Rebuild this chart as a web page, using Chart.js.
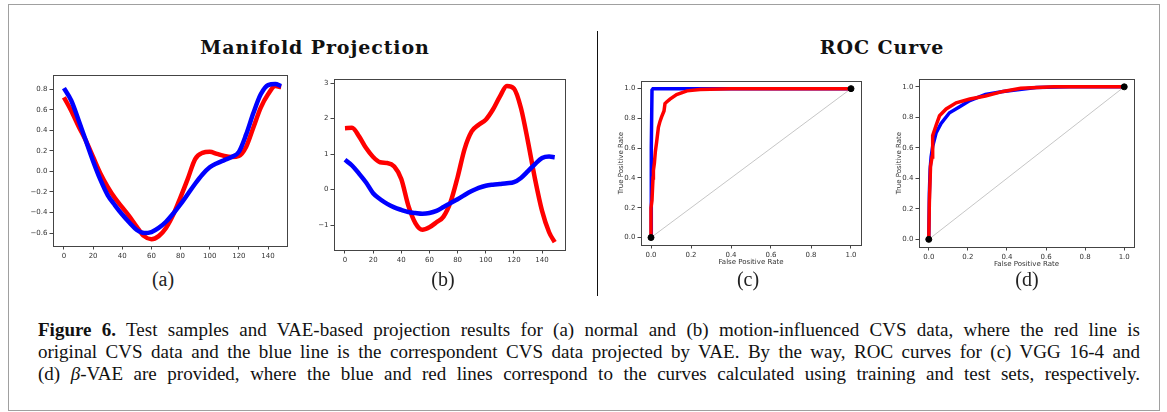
<!DOCTYPE html>
<html>
<head>
<meta charset="utf-8">
<script src="https://cdn.jsdelivr.net/npm/chart.js@4"></script>
<style>
  body { margin: 0; background: #fff; }
  #fig { position: relative; width: 1167px; height: 412px; overflow: hidden; }
  .box { position: absolute; left: 8px; top: 4px; width: 1150px; height: 405px; border: 1.5px solid #a0a0a0; }
  .divider { position: absolute; left: 597px; top: 31px; width: 1px; height: 265px; background: #111; }
  .head { position: absolute; transform: translateX(-50%); font-family: 'DejaVu Serif', serif; font-weight: bold; font-size: 19px; letter-spacing: 0.9px; color: #111; white-space: nowrap; }
  .sub { position: absolute; transform: translateX(-50%); font-family: 'Liberation Serif', serif; font-size: 20px; color: #222; }
  canvas { position: absolute; }
  .cap { position: absolute; left: 38px; width: 1102px; font-family: 'Liberation Serif', serif; font-size: 19px; color: #111; text-align: justify; text-align-last: justify; white-space: nowrap; }
</style>
</head>
<body>
<div id="fig">
  <div class="box"></div>
  <div class="divider"></div>
  <div class="head" style="left:315px; top:36px;">Manifold Projection</div>
  <div class="head" style="left:882px; top:36px;">ROC Curve</div>
  <canvas id="chartA"></canvas>
  <canvas id="chartB"></canvas>
  <canvas id="chartC"></canvas>
  <canvas id="chartD"></canvas>
  <div class="sub" style="left:163px; top:268px;">(a)</div>
  <div class="sub" style="left:443px; top:268px;">(b)</div>
  <div class="sub" style="left:748px; top:268px;">(c)</div>
  <div class="sub" style="left:1027px; top:268px;">(d)</div>
  <div class="cap" style="top:319px;"><b>Figure 6.</b> Test samples and VAE-based projection results for (a) normal and (b) motion-influenced CVS data, where the red line is</div>
  <div class="cap" style="top:341px;">original CVS data and the blue line is the correspondent CVS data projected by VAE. By the way, ROC curves for (c) VGG 16-4 and</div>
  <div class="cap" style="top:363px;">(d) <i>β</i>-VAE are provided, where the blue and red lines correspond to the curves calculated using training and test sets, respectively.</div>
</div>
<script>
// sample index of the CVS signals (read every 5 samples)
const sampleIdx = [0, 5, 10, 15, 20, 25, 30, 35, 40, 45, 50, 55, 60, 65, 70, 75, 80, 85, 90, 95, 100, 105, 110, 115, 120, 125, 130, 135, 140, 145, 149];

// (a) normal CVS data
const redA = [0.72, 0.59, 0.44, 0.30, 0.14, -0.02, -0.15, -0.26, -0.35, -0.44, -0.54, -0.63, -0.66, -0.63, -0.55, -0.42, -0.25, -0.07, 0.12, 0.18, 0.19, 0.17, 0.15, 0.14, 0.15, 0.24, 0.43, 0.62, 0.75, 0.83, 0.82];
const blueA = [0.81, 0.69, 0.50, 0.30, 0.10, -0.08, -0.23, -0.33, -0.42, -0.50, -0.57, -0.60, -0.59, -0.55, -0.49, -0.41, -0.32, -0.22, -0.12, -0.03, 0.04, 0.08, 0.11, 0.14, 0.19, 0.36, 0.57, 0.75, 0.84, 0.85, 0.83];

// (b) motion-influenced CVS data
const redB = [1.73, 1.74, 1.50, 1.17, 0.92, 0.77, 0.75, 0.65, 0.30, -0.45, -0.94, -1.13, -1.06, -0.92, -0.76, -0.35, 0.35, 1.15, 1.64, 1.83, 1.97, 2.25, 2.62, 2.92, 2.85, 2.30, 1.35, 0.30, -0.60, -1.20, -1.48];
const blueB = [0.84, 0.68, 0.45, 0.20, -0.10, -0.27, -0.40, -0.50, -0.57, -0.63, -0.66, -0.68, -0.66, -0.60, -0.49, -0.38, -0.27, -0.15, -0.04, 0.05, 0.11, 0.14, 0.16, 0.18, 0.21, 0.33, 0.52, 0.72, 0.89, 0.93, 0.91];

// (c) ROC, VGG 16-4
const fprTrainC = [0, 0, 0.003, 0.005, 0.01, 1];
const tprTrainC = [0, 0.2, 0.6, 0.99, 1.0, 1.0];
const fprTestC = [0, 0, 0.005, 0.01, 0.012, 0.017, 0.022, 0.028, 0.037, 0.045, 0.053, 0.065, 0.07, 0.078, 0.095, 0.128, 0.18, 0.245, 0.4, 1];
const tprTestC = [0, 0.2, 0.25, 0.4, 0.45, 0.5, 0.58, 0.64, 0.74, 0.78, 0.81, 0.85, 0.9, 0.91, 0.93, 0.96, 0.985, 0.995, 1.0, 1.0];

// (d) ROC, beta-VAE
const fprTrainD = [0, 0.003, 0.007, 0.012, 0.02, 0.038, 0.063, 0.106, 0.158, 0.21, 0.29, 0.38, 0.55, 0.72, 1];
const tprTrainD = [0, 0.3, 0.46, 0.54, 0.61, 0.70, 0.76, 0.83, 0.87, 0.91, 0.95, 0.97, 0.995, 1.0, 1.0];
const fprTestD = [0, 0.003, 0.009, 0.017, 0.02, 0.038, 0.055, 0.089, 0.14, 0.21, 0.29, 0.38, 0.47, 0.64, 1];
const tprTestD = [0, 0.24, 0.48, 0.54, 0.68, 0.75, 0.81, 0.855, 0.895, 0.92, 0.94, 0.97, 0.99, 1.0, 1.0];

// chance diagonal and end points
const chanceLine = [0, 1];

// tick labels
const sampleTicks = [0, 20, 40, 60, 80, 100, 120, 140];
const yTicksA = [-0.6, -0.4, -0.2, 0, 0.2, 0.4, 0.6, 0.8];
const yTicksB = [-1, 0, 1, 2, 3];
const rocTicks = [0, 0.2, 0.4, 0.6, 0.8, 1.0];

Chart.defaults.animation = false;
Chart.defaults.font.family = 'DejaVu Sans';

const RED = '#ff0000';
const BLUE = '#0000ff';
const AXIS = '#444';

// draw the closed matplotlib-like box around each plot area
const framePlugin = {
    id: 'frame',
    afterDraw(chart) {
        const a = chart.chartArea;
        const ctx = chart.ctx;
        ctx.save();
        ctx.strokeStyle = AXIS;
        ctx.lineWidth = 1;
        ctx.strokeRect(Math.round(a.left) + 0.5, Math.round(a.top) + 0.5,
            Math.round(a.right - a.left), Math.round(a.bottom - a.top));
        ctx.restore();
    }
};

const fmt1 = v => v.toFixed(1).replace('-', '\u2212');
const fmt0 = v => v.toFixed(0).replace('-', '\u2212');

function scaleOpts(min, max, ticks, fmt, size, title) {
    return {
        type: 'linear',
        min: min,
        max: max,
        afterBuildTicks: s => { s.ticks = ticks.map(v => ({ value: v })); },
        afterFit: s => { if (s.isHorizontal()) s.height = size; else s.width = size; },
        grid: { drawOnChartArea: false, drawTicks: true, tickLength: 3.5, tickColor: AXIS, color: AXIS },
        border: { display: false },
        ticks: { font: { size: 7 }, color: '#333', padding: 2, callback: fmt, maxRotation: 0, autoSkip: false },
        title: title
            ? { display: true, text: title, color: '#333', font: { size: 7 }, padding: 0 }
            : { display: false }
    };
}

function pairs(xs, ys) {
    return xs.map((x, i) => ({ x: x, y: ys[i] }));
}

// plot area (frame) of each panel in page pixels
function makeChart(id, frame, yWidth, xHeight, datasets, xScale, yScale) {
    const padTop = 6, padRight = 6;
    const cv = document.getElementById(id);
    cv.width = frame.r - frame.l + yWidth + padRight;
    cv.height = frame.b - frame.t + padTop + xHeight;
    cv.style.left = (frame.l - yWidth) + 'px';
    cv.style.top = (frame.t - padTop) + 'px';
    return new Chart(cv.getContext('2d'), {
        type: 'scatter',
        data: { datasets: datasets },
        options: {
            responsive: false,
            devicePixelRatio: 1,
            events: [],
            layout: { padding: { top: padTop, right: padRight, left: 0, bottom: 0 } },
            plugins: { legend: { display: false }, tooltip: { enabled: false } },
            scales: { x: xScale, y: yScale }
        },
        plugins: [framePlugin]
    });
}

function signal(xs, ys, color) {
    return {
        data: pairs(xs, ys),
        showLine: true,
        borderColor: color,
        backgroundColor: color,
        borderWidth: 4.5,
        pointRadius: 0,
        cubicInterpolationMode: 'monotone'
    };
}

function rocLine(xs, ys, color) {
    return {
        data: pairs(xs, ys),
        showLine: true,
        borderColor: color,
        backgroundColor: color,
        borderWidth: 3.5,
        pointRadius: 0,
        tension: 0
    };
}

function rocExtras() {
    return {
        dots: {
            data: pairs(chanceLine, chanceLine),
            showLine: false,
            pointRadius: 3,
            backgroundColor: '#000',
            borderColor: '#000'
        },
        diag: {
            data: pairs(chanceLine, chanceLine),
            showLine: true,
            borderColor: '#b8b8b8',
            borderWidth: 0.8,
            pointRadius: 0
        }
    };
}

// (a)
makeChart('chartA', { l: 53, t: 75, r: 287, b: 246 }, 36, 20,
    [signal(sampleIdx, blueA, BLUE), signal(sampleIdx, redA, RED)],
    scaleOpts(-7.5, 153, sampleTicks, fmt0, 20),
    scaleOpts(-0.726, 0.936, yTicksA, fmt1, 36));

// (b)
makeChart('chartB', { l: 334, t: 79, r: 565, b: 250 }, 30, 20,
    [signal(sampleIdx, blueB, BLUE), signal(sampleIdx, redB, RED)],
    scaleOpts(-7.8, 156.3, sampleTicks, fmt0, 20),
    scaleOpts(-1.70, 3.11, yTicksB, fmt0, 30));

// (c)
const exC = rocExtras();
makeChart('chartC', { l: 641, t: 81, r: 861, b: 245 }, 24, 21,
    [exC.dots, rocLine(fprTestC, tprTestC, RED), rocLine(fprTrainC, tprTrainC, BLUE), exC.diag],
    scaleOpts(-0.05, 1.05, rocTicks, fmt1, 21, 'False Positive Rate'),
    scaleOpts(-0.05, 1.05, rocTicks, fmt1, 24, 'True Positive Rate'));

// (d)
const exD = rocExtras();
makeChart('chartD', { l: 919, t: 79, r: 1134, b: 247 }, 24, 21,
    [exD.dots, rocLine(fprTestD, tprTestD, RED), rocLine(fprTrainD, tprTrainD, BLUE), exD.diag],
    scaleOpts(-0.05, 1.05, rocTicks, fmt1, 21, 'False Positive Rate'),
    scaleOpts(-0.05, 1.05, rocTicks, fmt1, 24, 'True Positive Rate'));
</script>
</body>
</html>
